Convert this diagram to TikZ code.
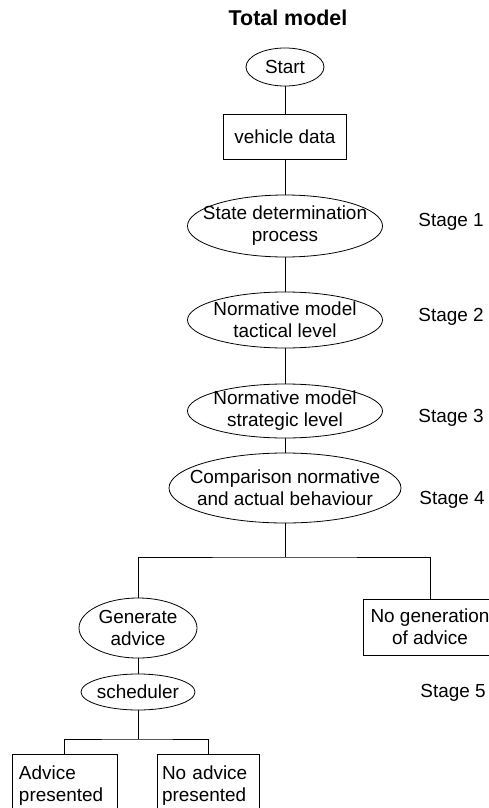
\documentclass[tikz,border=0pt]{standalone}
\usepackage{fontspec}
\setmainfont{Liberation Sans}
\usetikzlibrary{shapes.geometric,positioning}
\tikzstyle{conn} = [line width=0.8bp]
\tikzstyle{stagetext} = [font=\fontsize{19}{22}\selectfont]

\begin{document}
\begin{tikzpicture}[x=1bp,y=-1bp]
		\coordinate (title) at (288,18);
		\coordinate (start) at (285,67);
		\coordinate (vehicle) at (285,137);
		\coordinate (state) at (285,226);
		\coordinate (tactical) at (285,320);
		\coordinate (strategic) at (285,411);
		\coordinate (compare) at (285,488);
		\coordinate (split1) at (285,557);
		\coordinate (gen) at (138,628);
		\coordinate (nogen) at (430,627);
		\coordinate (sched) at (138,692);
		\coordinate (split2) at (138,739);
		\coordinate (advice) at (64.5,754);
		\coordinate (noadvice) at (208,754);
		\path[use as bounding box, clip] (0,0) rectangle (489,808);
		% Title
		\node[name=title, font=\fontsize{21.5}{24}\selectfont\bfseries] at (title) {Total model};
		% Processes
		\begin{scope}[every node/.style={draw, ellipse, line width=0.8bp, inner xsep=-60bp, inner ysep=-40bp, align=center, font=\fontsize{19}{22}\selectfont}]
		\node[name=start, minimum width=78bp, minimum height=38bp] at (start) {Start};
		\node[name=state, minimum width=195bp, minimum height=62bp] at (state) {State determination\\process};
		\node[name=tactical, minimum width=195bp, minimum height=56bp] at (tactical) {Normative model\\tactical level};
		\node[name=strategic, minimum width=195bp, minimum height=54bp] at (strategic) {Normative model\\strategic level};
		\node[name=compare, minimum width=232bp, minimum height=70bp] at (compare) {Comparison normative\\and actual behaviour};
		\node[name=gen, minimum width=118bp, minimum height=60bp] at (gen) {Generate\\advice};
		\node[name=sched, minimum width=114bp, minimum height=36bp] at (sched) {scheduler};
		\end{scope}
		% Data and outcomes
		\begin{scope}[every node/.style={draw, rectangle, line width=0.8bp, inner sep=0pt, align=center, font=\fontsize{19}{22}\selectfont}]
		\node[name=vehicle, minimum width=123bp, minimum height=45bp] at (vehicle) {vehicle data};
		\node[name=nogen, minimum width=134bp, minimum height=56bp] at (nogen) {No generation\\of advice};
		\node[name=advice, anchor=north, minimum width=105bp, minimum height=62bp, text width=91bp, align=left] at (advice) {Advice\\presented};
		\node[name=noadvice, anchor=north, minimum width=102bp, minimum height=62bp, text width=92bp, align=left] at (noadvice) {No advice\\presented};
		\end{scope}
		% Stages
		\node[stagetext, name=stage1] at (451,222) {Stage 1};
		\node[stagetext, name=stage2] at (451,317) {Stage 2};
		\node[stagetext, name=stage3] at (451,418) {Stage 3};
		\node[stagetext, name=stage4] at (452,500) {Stage 4};
		\node[stagetext, name=stage5] at (453,693) {Stage 5};
		\draw [conn] (start)--(vehicle);
		\draw [conn] (vehicle)--(state);
		\draw [conn] (state)--(tactical);
		\draw [conn] (tactical)--(strategic);
		\draw [conn] (strategic)--(compare);
		\draw [conn] (compare)--(split1);
		\draw [conn] (gen) |- (split1) -| (nogen);
		\draw [conn] (gen)--(sched);
		\draw [conn] (sched)--(split2);
		\draw [conn] (advice) |- (split2) -| (noadvice);
\end{tikzpicture}
\end{document}
